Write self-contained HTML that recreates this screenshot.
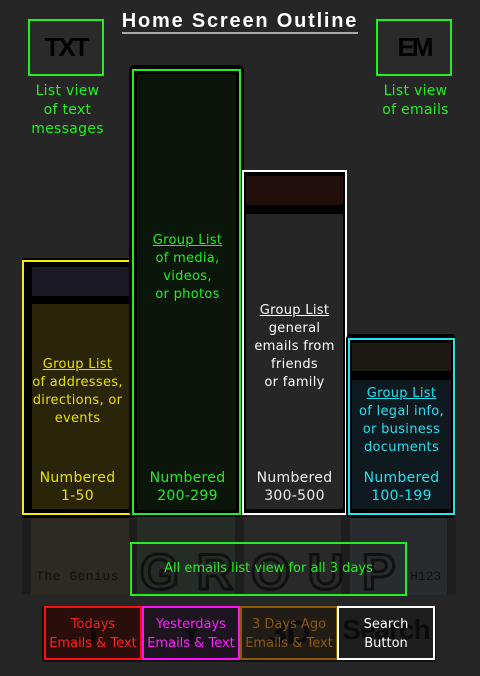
<!DOCTYPE html>
<html><head><meta charset="utf-8"><style>
*{margin:0;padding:0;box-sizing:border-box}
body{width:480px;height:676px;background:#262626;position:relative;overflow:hidden;font-family:"DejaVu Sans","Liberation Sans",sans-serif}
.a{position:absolute}
.t{position:absolute;text-align:center;font-size:13px;line-height:18px;letter-spacing:0.3px}
.u{text-decoration:underline}
.bar{position:absolute;border:2px solid}
.btn{position:absolute;top:606px;height:54px;border:2px solid;text-align:center;font-size:13px;line-height:19px;padding-top:7px;overflow:hidden}
.bg{position:absolute;left:0;right:0;top:6px;font:bold 34px 'Liberation Sans',sans-serif;color:#0c0c0c;z-index:0;letter-spacing:-1px}
.fg{position:relative;z-index:1}
</style></head><body>
<div class="a" style="left:0;top:10px;width:480px;text-align:center;color:#fff;font-weight:bold;font-size:20px;font-family:'Liberation Sans',sans-serif;letter-spacing:1.8px"><span style="border-bottom:2px solid #aaa">Home Screen Outline</span></div>

<div class="a" style="left:28px;top:19px;width:76px;height:57px;border:2px solid #22ee22;background:#2a2a2a;color:#000;font:bold 26px 'Liberation Sans',sans-serif;text-align:center;line-height:52px;letter-spacing:-2px">TXT</div>
<div class="a" style="left:376px;top:19px;width:76px;height:57px;border:2px solid #22ee22;background:#2a2a2a;color:#000;font:bold 26px 'Liberation Sans',sans-serif;text-align:center;line-height:52px;letter-spacing:-3px">EM</div>
<div class="t" style="left:20px;top:82px;width:95px;color:#22ee22;font-size:14px;line-height:19px">List view<br>of text<br>messages</div>
<div class="t" style="left:368px;top:82px;width:95px;color:#22ee22;font-size:14px;line-height:19px">List view<br>of emails</div>

<!-- reflections -->
<div class="a" style="left:22px;top:516px;width:434px;height:78px;background:#1e1e1e"></div>
<div class="a" style="left:31px;top:517px;width:98px;height:78px;background:#2d2a22"></div>
<div class="a" style="left:137px;top:517px;width:98px;height:78px;background:#252c25"></div>
<div class="a" style="left:244px;top:517px;width:97px;height:78px;background:#292929"></div>
<div class="a" style="left:350px;top:517px;width:97px;height:78px;background:#282c2e"></div>

<!-- yellow -->
<div class="a" style="left:22px;top:258px;width:112px;height:260px;background:#000"></div>
<div class="bar" style="left:22px;top:260px;width:109px;height:255px;border-color:#f0f000;background:#000">
 <div class="a" style="left:8px;top:5px;width:97px;height:29px;background:#1a1822"></div>
 <div class="a" style="left:8px;top:42px;width:97px;height:205px;background:#2a2508"></div>
</div>
<div class="t" style="left:24px;top:356px;width:107px;color:#e8e000"><span class="u">Group List</span><br>of addresses,<br>directions, or<br>events</div>
<div class="t" style="left:24px;top:469px;width:107px;color:#e8e000;font-size:14px">Numbered<br>1-50</div>

<!-- green -->
<div class="a" style="left:129px;top:65px;width:115px;height:452px;background:#000;border-radius:6px"></div>
<div class="bar" style="left:132px;top:69px;width:109px;height:446px;border-color:#22ee22;background:#000">
 <div class="a" style="left:3px;top:3px;width:99px;height:436px;background:#0a160a"></div>
</div>
<div class="t" style="left:134px;top:232px;width:107px;color:#22ee22"><span class="u">Group List</span><br>of media,<br>videos,<br>or photos</div>
<div class="t" style="left:134px;top:469px;width:107px;color:#22ee22;font-size:14px">Numbered<br>200-299</div>

<!-- white -->
<div class="bar" style="left:242px;top:170px;width:105px;height:345px;border-color:#fff;background:#000">
 <div class="a" style="left:2px;top:4px;width:97px;height:29px;background:#220e0a"></div>
 <div class="a" style="left:2px;top:42px;width:97px;height:295px;background:#262626"></div>
</div>
<div class="t" style="left:243px;top:302px;width:103px;color:#fff"><span class="u">Group List</span><br>general<br>emails from<br>friends<br>or family</div>
<div class="t" style="left:243px;top:469px;width:103px;color:#eee;font-size:14px">Numbered<br>300-500</div>

<!-- cyan -->
<div class="a" style="left:346px;top:334px;width:110px;height:184px;background:#000;border-radius:5px"></div>
<div class="bar" style="left:348px;top:338px;width:107px;height:177px;border-color:#22e6f0;background:#000">
 <div class="a" style="left:2px;top:3px;width:99px;height:28px;background:#1c1814"></div>
 <div class="a" style="left:2px;top:40px;width:99px;height:129px;background:#0f1a20"></div>
</div>
<div class="t" style="left:349px;top:385px;width:105px;color:#22e0f0"><span class="u">Group List</span><br>of legal info,<br>or business<br>documents</div>
<div class="t" style="left:349px;top:469px;width:105px;color:#22e0f0;font-size:14px">Numbered<br>100-199</div>

<!-- GROUP -->
<div class="a" style="left:140px;top:542px;white-space:nowrap;font:bold 50px 'Liberation Sans',sans-serif;letter-spacing:18px;color:transparent;-webkit-text-stroke:3px #111;line-height:60px">GROUP</div>
<div class="a" style="left:36px;top:569px;font:13px 'Liberation Mono',monospace;color:#111;letter-spacing:0.5px">The Genius</div>
<div class="a" style="left:410px;top:569px;font:13px 'Liberation Mono',monospace;color:#111">H123</div>
<div class="a" style="left:130px;top:542px;width:277px;height:54px;border:2px solid #22ee22;color:#22ee22;text-align:center;font-size:13px;line-height:50px">All emails list view for all 3 days</div>

<!-- buttons -->
<div class="a" style="left:42px;top:606px;width:394px;height:56px;background:#111"></div>
<div class="btn" style="left:44px;width:98px;border-color:#ff1010;background:#2a0e0c;color:#ff2020"><div class="bg">T</div><div class="fg">Todays<br>Emails &amp; Text</div></div>
<div class="btn" style="left:142px;width:98px;border-color:#ff10ff;background:#1e1420;color:#ff20ff"><div class="bg">Y</div><div class="fg">Yesterdays<br>Emails &amp; Text</div></div>
<div class="btn" style="left:240px;width:98px;border-color:#8a5a00;background:#211c16;color:#8a5a10"><div class="bg">3D</div><div class="fg">3 Days Ago<br>Emails &amp; Text</div></div>
<div class="btn" style="left:337px;width:98px;border-color:#fff;background:#1e1e1e;color:#fff"><div class="bg" style="font-size:28px">Search</div><div class="fg">Search<br>Button</div></div>
</body></html>
